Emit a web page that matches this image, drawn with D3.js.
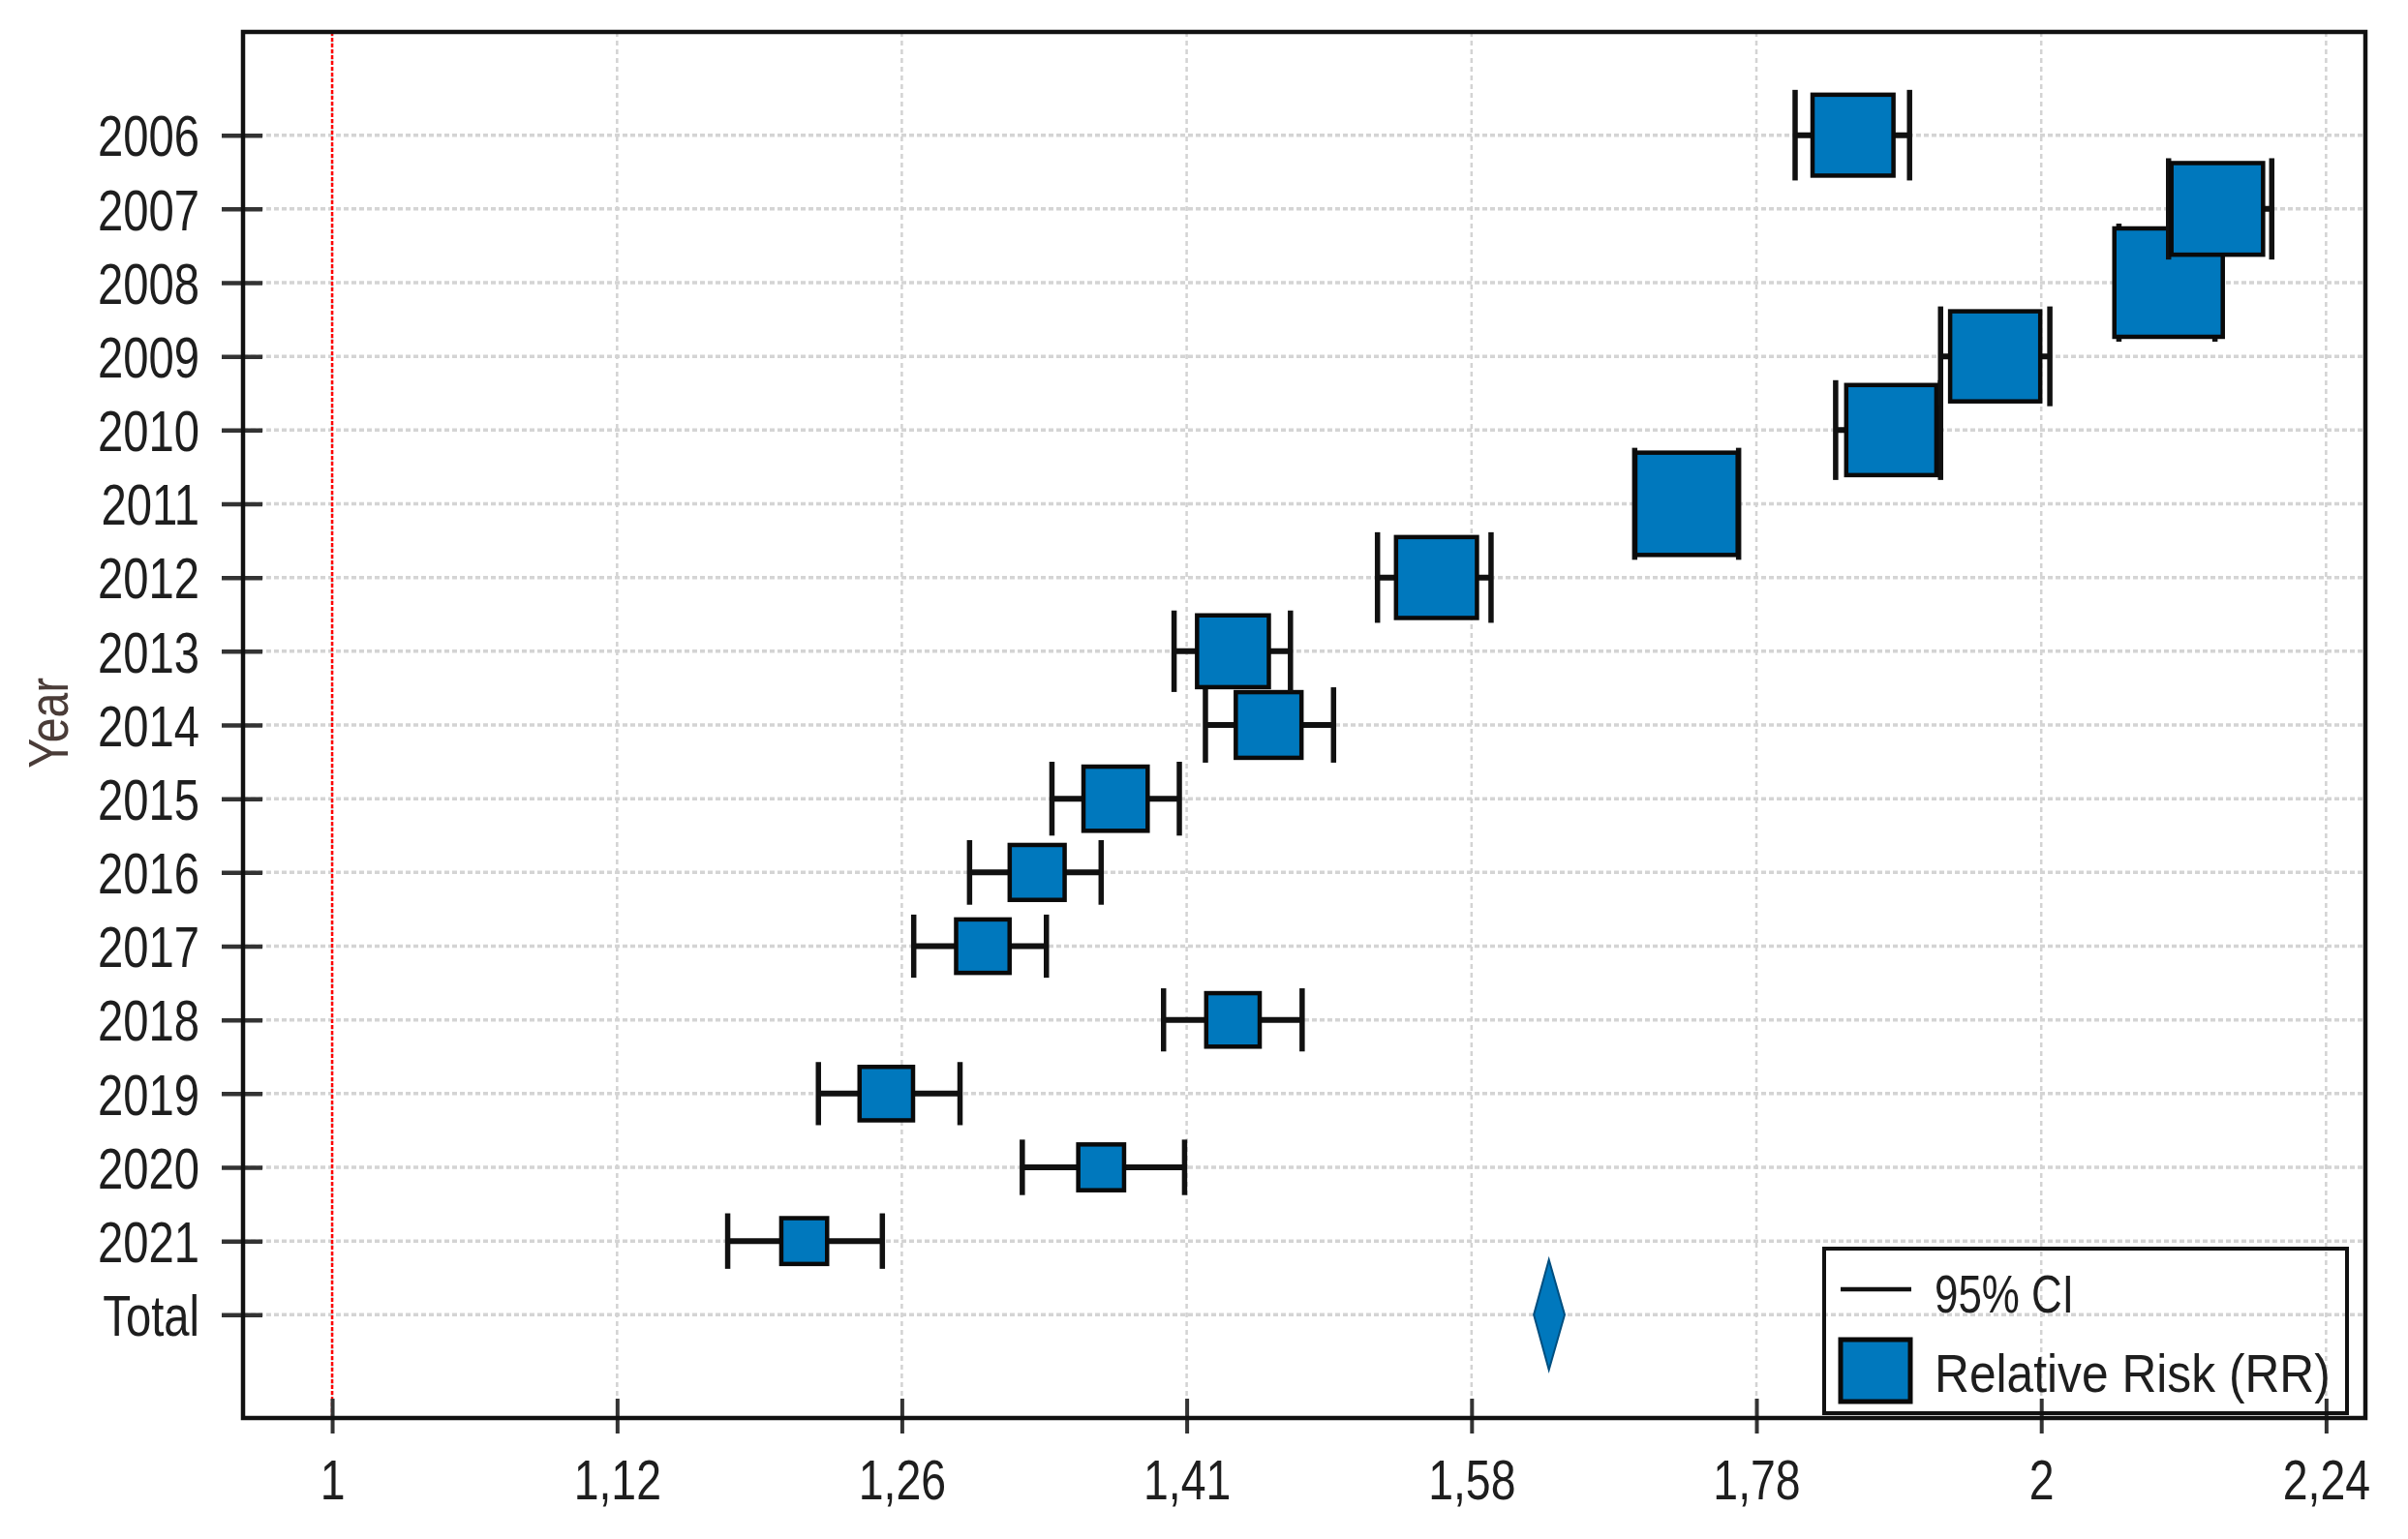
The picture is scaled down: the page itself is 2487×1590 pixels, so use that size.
<!DOCTYPE html>
<html><head><meta charset="utf-8">
<script src="https://cdn.jsdelivr.net/npm/d3@7"></script>
<style>html,body{margin:0;padding:0;background:#fff;} svg{display:block;}</style>
</head><body>
<svg id="chart" width="2487" height="1590"></svg>
<script>
// ---------- DATA ----------
const categories = ["2006","2007","2008","2009","2010","2011","2012","2013","2014","2015","2016","2017","2018","2019","2020","2021","Total"];
const years = ["2006","2007","2008","2009","2010","2011","2012","2013","2014","2015","2016","2017","2018","2019","2020","2021"];
const rr     = [1.853, 2.148, 2.106, 1.963, 1.882, 1.732, 1.565, 1.441, 1.462, 1.374, 1.331, 1.302, 1.441, 1.252, 1.366, 1.211];
const ciLow  = [1.810, 2.106, 2.064, 1.920, 1.840, 1.696, 1.528, 1.407, 1.425, 1.339, 1.295, 1.266, 1.401, 1.218, 1.323, 1.174];
const ciHigh = [1.896, 2.196, 2.146, 2.007, 1.920, 1.769, 1.600, 1.475, 1.501, 1.410, 1.366, 1.336, 1.482, 1.290, 1.413, 1.250];
const weights = [7.33, 9.40, 13.16, 9.09, 9.09, 11.72, 7.33, 5.77, 4.83, 4.61, 3.38, 3.20, 3.20, 3.20, 2.35, 2.35];
const totalRR = [1.638];
const totalLow = [1.628];
const totalHigh = [1.6485];
const xTickValues = [1, 1.1225, 1.2599, 1.4142, 1.5874, 1.7818, 2, 2.2449];
const xTickLabels = ["1","1,12","1,26","1,41","1,58","1,78","2","2,24"];
const legendLabels = ["95% CI", "Relative Risk (RR)"];
const yTitle = "Year";

// ---------- LAYOUT ----------
const L = 251, R = 2443, T = 33, B = 1465;
const BLUE = "#0078bd";
const FONT = "'Liberation Sans', Arial, sans-serif";
const SQX = 0.8; // horizontal condensation of text

const svg = d3.select("#chart");

const x = d3.scaleLog().base(2).domain([0.9645, 2.281]).range([L, R]);
const y = d3.scalePoint().domain(categories).range([T, B]).padding(1.4);
const size = d3.scaleSqrt().domain([0, 13.16]).range([0, 112]);

function ctext(parent, px, py, str, anchor, fs, fill, extra, tlen) {
  const g = parent.append("g").attr("transform", `translate(${px},${py})` + (extra || "") + ` scale(${SQX},1)`);
  const t = g.append("text").attr("text-anchor", anchor).attr("dy", "0.36em")
    .attr("font-family", FONT).attr("font-size", fs).attr("fill", fill).text(str);
  if (tlen) t.attr("textLength", tlen).attr("lengthAdjust", "spacingAndGlyphs");
  return g;
}

// ---------- GRID ----------
const grid = svg.append("g");
grid.selectAll("line.v").data(xTickValues).enter().append("line")
  .attr("x1", d => x(d)).attr("x2", d => x(d)).attr("y1", T).attr("y2", B)
  .attr("stroke", "#d3d3d3").attr("stroke-width", 2.5).attr("stroke-dasharray", "5,4");
grid.selectAll("line.h").data(categories).enter().append("line")
  .attr("x1", L).attr("x2", R).attr("y1", d => y(d)).attr("y2", d => y(d))
  .attr("stroke", "#d4d4d4").attr("stroke-width", 3.5).attr("stroke-dasharray", "5,3");

// red reference line at RR = 1
svg.append("line").attr("x1", x(1)).attr("x2", x(1)).attr("y1", T).attr("y2", B)
  .attr("stroke", "#ff0000").attr("stroke-width", 2.5).attr("stroke-dasharray", "4,2");

// ---------- AXES ----------
const yAxis = svg.append("g").attr("transform", `translate(${L},0)`)
  .call(d3.axisLeft(y).tickSize(22).tickFormat(""));
yAxis.select(".domain").remove();
yAxis.selectAll(".tick line").attr("x1", 20).attr("stroke", "#333").attr("stroke-width", 4.5);
yAxis.selectAll(".tick").each(function(d) {
  ctext(d3.select(this), -45, 0, d, "end", 59, "#1e1e1e");
});

const xAxis = svg.append("g").attr("transform", `translate(0,${B})`)
  .call(d3.axisBottom(x).tickValues(xTickValues).tickSize(16).tickFormat(""));
xAxis.select(".domain").remove();
xAxis.selectAll(".tick line").attr("y1", -20).attr("stroke", "#333").attr("stroke-width", 4);
xAxis.selectAll(".tick").each(function(d, i) {
  ctext(d3.select(this), 0, 63, xTickLabels[i], "middle", 58, "#1e1e1e");
});

// axis title
ctext(svg, 49, 747, yTitle, "middle", 58, "#4a3c38", " rotate(-90)");

// ---------- MARKS ----------
const rows = years.map((yr, i) => ({yr, rr: rr[i], lo: ciLow[i], hi: ciHigh[i], w: weights[i]})).reverse();
const marks = svg.append("g");
rows.forEach(r => {
  const g = marks.append("g");
  const cy = y(r.yr), s = size(r.w), cap = s + 10;
  g.append("line").attr("x1", x(r.lo)).attr("x2", x(r.hi)).attr("y1", cy).attr("y2", cy)
    .attr("stroke", "#111").attr("stroke-width", 6);
  [r.lo, r.hi].forEach(v => g.append("line").attr("x1", x(v)).attr("x2", x(v))
    .attr("y1", cy - cap / 2).attr("y2", cy + cap / 2).attr("stroke", "#111").attr("stroke-width", 5.5));
  g.append("rect").attr("x", x(r.rr) - s / 2).attr("y", cy - s / 2).attr("width", s).attr("height", s)
    .attr("fill", BLUE).attr("stroke", "#0a0a0a").attr("stroke-width", 4.5);
});

// total diamond
const ty = y("Total"), dh = 114;
svg.append("path")
  .attr("d", `M${x(totalLow[0])},${ty} L${x(totalRR[0])},${ty - dh / 2} L${x(totalHigh[0])},${ty} L${x(totalRR[0])},${ty + dh / 2} Z`)
  .attr("fill", BLUE).attr("stroke", "#004f80").attr("stroke-width", 2);

// ---------- FRAME ----------
svg.append("rect").attr("x", L).attr("y", T).attr("width", R - L).attr("height", B - T)
  .attr("fill", "none").attr("stroke", "#111").attr("stroke-width", 4.5);

// ---------- LEGEND ----------
const lg = svg.append("g");
lg.append("rect").attr("x", 1884).attr("y", 1290).attr("width", 540).attr("height", 170)
  .attr("fill", "none").attr("stroke", "#111").attr("stroke-width", 4);
lg.append("line").attr("x1", 1901).attr("x2", 1974).attr("y1", 1332).attr("y2", 1332)
  .attr("stroke", "#111").attr("stroke-width", 4.5);
ctext(lg, 1998, 1336, legendLabels[0], "start", 56, "#1e1e1e", "", 180);
lg.append("rect").attr("x", 1901).attr("y", 1384).attr("width", 72).attr("height", 64)
  .attr("fill", BLUE).attr("stroke", "#0a0a0a").attr("stroke-width", 5);
ctext(lg, 1998, 1418, legendLabels[1], "start", 56, "#1e1e1e", "", 511);
</script>
</body></html>
